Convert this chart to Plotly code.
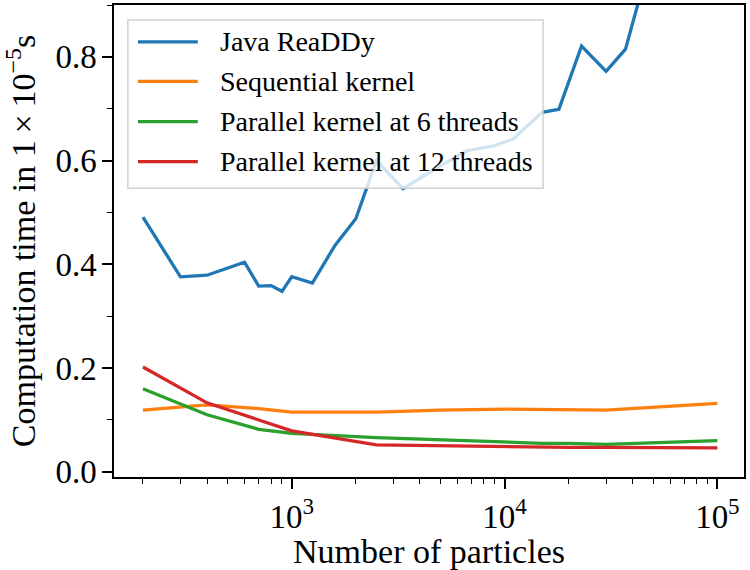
import plotly.graph_objects as go

# ---- data ----
n_java = [200, 300, 400, 600, 700, 800, 900, 1000, 1250, 1600, 2000, 2500, 3333,
          5000, 6667, 9000, 11000, 15000, 18000, 23000, 30000, 37000, 50000, 100000]
t_java = [0.491, 0.376, 0.379, 0.404, 0.358, 0.359, 0.348, 0.376, 0.364, 0.437, 0.488, 0.600, 0.546,
          0.590, 0.619, 0.629, 0.642, 0.693, 0.699, 0.821, 0.772, 0.815, 1.01, 1.60]

n_kernel = [200, 400, 700, 1000, 2500, 5000, 10000, 15000, 20000, 30000, 100000]
t_seq = [0.119, 0.129, 0.122, 0.115, 0.115, 0.119, 0.121, 0.120, 0.120, 0.119, 0.132]
t_par6 = [0.160, 0.110, 0.082, 0.074, 0.066, 0.062, 0.058, 0.055, 0.055, 0.053, 0.060]
t_par12 = [0.202, 0.133, 0.100, 0.079, 0.052, 0.050, 0.048, 0.047, 0.047, 0.047, 0.046]

series_names = ["Java ReaDDy", "Sequential kernel", "Parallel kernel at 6 threads",
                "Parallel kernel at 12 threads"]
colors = ["#1f77b4", "#ff7f0e", "#2ca02c", "#d62728"]

x_tickvals = [1e3, 1e4, 1e5]
x_ticktext = ["10<sup>3</sup>", "10<sup>4</sup>", "10<sup>5</sup>"]
y_tickvals = [0.0, 0.2, 0.4, 0.6, 0.8]

x_title = "Number of particles"
y_title = "Computation time in 1\u2009\u00d7\u200910<sup>\u22125</sup>s"

FONT = "'Liberation Serif', 'Times New Roman', 'DejaVu Serif', serif"

fig = go.Figure()
xs = [n_java, n_kernel, n_kernel, n_kernel]
ys = [t_java, t_seq, t_par6, t_par12]
for x, y, name, c in zip(xs, ys, series_names, colors):
    fig.add_trace(go.Scatter(x=x, y=y, mode="lines", name=name,
                             line=dict(color=c, width=3.3), showlegend=False))

minor_x = [k * 10 ** e for e in range(2, 6) for k in range(2, 10)]

fig.update_xaxes(type="log", range=[2.165, 5.125], tickmode="array",
                 tickvals=x_tickvals, ticktext=x_ticktext, automargin=False,
                 ticks="outside", ticklen=10, tickwidth=1.5, tickcolor="black",
                 minor=dict(tickmode="array", tickvals=minor_x, ticks="outside",
                            ticklen=5, tickwidth=1.2, tickcolor="black"),
                 showline=True, linecolor="black", linewidth=1.5, mirror=True,
                 showgrid=False, zeroline=False,
                 tickfont=dict(family=FONT, size=33, color="black"),
                 title=dict(text=x_title, font=dict(family=FONT, size=34, color="black"),
                            standoff=6))
fig.update_yaxes(range=[-0.01, 0.9], tickmode="array", tickvals=y_tickvals,
                 tickformat=".1f", automargin=False,
                 ticks="outside", ticklen=10, tickwidth=1.5, tickcolor="black",
                 ticklabelstandoff=-1,
                 minor=dict(dtick=0.1, ticks="outside", ticklen=5, tickwidth=1.2,
                            tickcolor="black"),
                 showline=True, linecolor="black", linewidth=1.5, mirror=True,
                 showgrid=False, zeroline=False,
                 tickfont=dict(family=FONT, size=33, color="black"),
                 title=dict(text=y_title, font=dict(family=FONT, size=34, color="black"),
                            standoff=10))

# manual legend (matplotlib style)
shapes = [dict(type="rect", xref="paper", yref="paper", x0=0.022, x1=0.681, y0=0.612, y1=0.968,
               fillcolor="rgba(255,255,255,0.8)", line=dict(color="rgba(204,204,204,0.9)", width=1.5),
               layer="above")]
annotations = []
row_y = [0.922, 0.838, 0.753, 0.668]
for name, c, ry in zip(series_names, colors, row_y):
    shapes.append(dict(type="line", xref="paper", yref="paper", x0=0.038, x1=0.133, y0=ry, y1=ry,
                       line=dict(color=c, width=3.3), layer="above"))
    annotations.append(dict(xref="paper", yref="paper", x=0.1655, y=ry, text=name, showarrow=False,
                            xanchor="left", yanchor="middle",
                            font=dict(family=FONT, size=28, color="black")))

fig.update_layout(width=750, height=570, margin=dict(l=114, r=6, t=5, b=93),
                  plot_bgcolor="white", paper_bgcolor="white",
                  shapes=shapes, annotations=annotations, showlegend=False)

fig.write_html("out.html", config={"displayModeBar": False},
               post_script="document.body.style.margin='0';document.body.style.padding='0';")
